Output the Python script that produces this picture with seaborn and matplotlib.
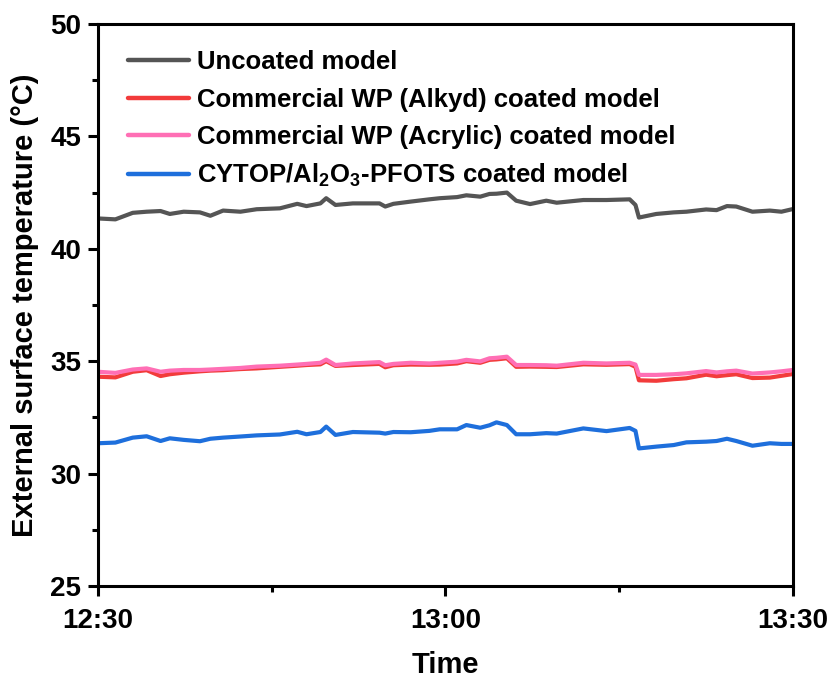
import matplotlib
matplotlib.use("Agg")
import matplotlib.pyplot as plt
import seaborn as sns
import pandas as pd
from matplotlib.ticker import FixedLocator

# ---- data (minutes after 12:30) ----
time_min = [0, 1.5, 3, 4.2, 5.4, 6.2, 7.4, 8.8, 9.7, 10.8, 12.3, 13.7, 15.7, 17.2, 18, 19.2, 19.7,
            20.5, 22, 24.3, 24.8, 25.5, 27, 28.6, 29.5, 31, 31.8, 33, 33.8, 34.4, 35.3, 36.1, 37.3,
            38.7, 39.6, 41.9, 43.9, 45.9, 46.4, 46.7, 48.2, 49.7, 50.8, 52.5, 53.4, 54.3, 55.1,
            56.5, 58, 59, 60]

uncoated = [41.35, 41.31, 41.60, 41.65, 41.68, 41.55, 41.65, 41.62, 41.47, 41.70, 41.65, 41.76,
            41.80, 42.00, 41.90, 42.02, 42.25, 41.95, 42.02, 42.02, 41.88, 42.00, 42.10, 42.20,
            42.25, 42.30, 42.38, 42.32, 42.44, 42.45, 42.50, 42.14, 41.99, 42.14, 42.05, 42.17,
            42.17, 42.20, 41.95, 41.39, 41.55, 41.62, 41.65, 41.75, 41.72, 41.90, 41.88, 41.65,
            41.70, 41.65, 41.77]

alkyd = [34.31, 34.28, 34.53, 34.60, 34.34, 34.42, 34.49, 34.55, 34.58, 34.60, 34.65, 34.68,
         34.75, 34.80, 34.83, 34.86, 35.00, 34.79, 34.83, 34.88, 34.73, 34.82, 34.85, 34.84,
         34.85, 34.90, 35.00, 34.93, 35.06, 35.08, 35.13, 34.75, 34.76, 34.75, 34.74, 34.86,
         34.84, 34.87, 34.75, 34.15, 34.13, 34.20, 34.24, 34.40, 34.33, 34.38, 34.42, 34.25,
         34.27, 34.35, 34.43]

acrylic = [34.53, 34.48, 34.63, 34.68, 34.53, 34.58, 34.61, 34.61, 34.63, 34.66, 34.70, 34.76,
           34.80, 34.85, 34.88, 34.93, 35.07, 34.83, 34.90, 34.96, 34.82, 34.88, 34.93, 34.90,
           34.93, 34.98, 35.06, 34.99, 35.13, 35.15, 35.20, 34.83, 34.83, 34.82, 34.80, 34.93,
           34.90, 34.93, 34.85, 34.39, 34.39, 34.42, 34.46, 34.56, 34.50, 34.55, 34.58, 34.45,
           34.50, 34.55, 34.61]

cytop = [31.35, 31.38, 31.60, 31.66, 31.45, 31.57, 31.50, 31.44, 31.55, 31.60, 31.65, 31.70,
         31.74, 31.86, 31.75, 31.85, 32.09, 31.72, 31.85, 31.82, 31.78, 31.85, 31.84, 31.90,
         31.97, 31.97, 32.16, 32.04, 32.15, 32.28, 32.16, 31.75, 31.75, 31.80, 31.78, 32.01,
         31.89, 32.03, 31.90, 31.12, 31.20, 31.27, 31.39, 31.42, 31.45, 31.55, 31.45, 31.24,
         31.35, 31.32, 31.32]

series_names = ["Uncoated model",
                "Commercial WP (Alkyd) coated model",
                "Commercial WP (Acrylic) coated model",
                r"CYTOP/Al$_\mathbf{2}$O$_\mathbf{3}$-PFOTS coated model"]
series_colors = ["#555555", "#F23B3B", "#FF6FB5", "#1E6FDC"]

x_tick_pos = [0, 30, 60]
x_tick_labels = ["12:30", "13:00", "13:30"]
x_minor_pos = [15, 45]

# ---- build long table ----
frames = []
for name, vals in zip(series_names, [uncoated, alkyd, acrylic, cytop]):
    frames.append(pd.DataFrame({"t": time_min, "T": vals, "series": name}))
df = pd.concat(frames, ignore_index=True)

sns.set_theme(style="white")
plt.rcParams["font.family"] = ["Liberation Sans", "DejaVu Sans"]
plt.rcParams["font.weight"] = "bold"
plt.rcParams["text.color"] = "black"
plt.rcParams["axes.labelcolor"] = "black"
plt.rcParams["xtick.color"] = "black"
plt.rcParams["ytick.color"] = "black"
plt.rcParams["mathtext.fontset"] = "custom"
plt.rcParams["mathtext.rm"] = "Liberation Sans:bold"
plt.rcParams["mathtext.bf"] = "Liberation Sans:bold"
plt.rcParams["mathtext.it"] = "Liberation Sans:bold"

fig = plt.figure(figsize=(8.37, 6.84), dpi=100)
ax = fig.add_axes([98 / 837, 1 - 586 / 684, (793 - 98) / 837, (586 - 24) / 684])

sns.lineplot(data=df, x="t", y="T", hue="series", hue_order=series_names,
             palette=dict(zip(series_names, series_colors)), linewidth=3.0,
             ax=ax, legend=True)

ax.set_xlim(0, 60)
ax.set_ylim(25, 50)
ax.xaxis.set_major_locator(FixedLocator(x_tick_pos))
ax.set_xticklabels(x_tick_labels)
ax.xaxis.set_minor_locator(FixedLocator(x_minor_pos))
ax.set_yticks([25, 30, 35, 40, 45, 50])
ax.yaxis.set_minor_locator(FixedLocator([27.5, 32.5, 37.5, 42.5, 47.5]))

for sp in ax.spines.values():
    sp.set_visible(True)
    sp.set_linewidth(2.2)
    sp.set_color("black")

ax.tick_params(axis="both", which="major", direction="out", length=7, width=2.2,
               labelsize=20, pad=5, color="black", labelcolor="black", bottom=True, left=True)
ax.tick_params(axis="x", which="major", pad=9)
ax.tick_params(axis="both", which="minor", direction="out", length=4, width=2.2,
               color="black", bottom=True, left=True)
for lab in ax.get_xticklabels() + ax.get_yticklabels():
    lab.set_fontweight("bold")

ax.set_xlabel("Time", fontsize=21, fontweight="bold", labelpad=12, color="black")
ax.set_ylabel("External surface temperature (°C)", fontsize=21, fontweight="bold",
              labelpad=8, color="black")

leg = ax.legend(loc="upper left", frameon=False, fontsize=18.5, handlelength=2.4,
                handletextpad=0.3, labelspacing=0.52, borderaxespad=0.4,
                bbox_to_anchor=(0.013, 0.99))
for line in leg.get_lines():
    line.set_linewidth(3.2)
for txt in leg.get_texts():
    txt.set_fontweight("bold")
    txt.set_color("black")

fig.savefig("out.png", dpi=100)
